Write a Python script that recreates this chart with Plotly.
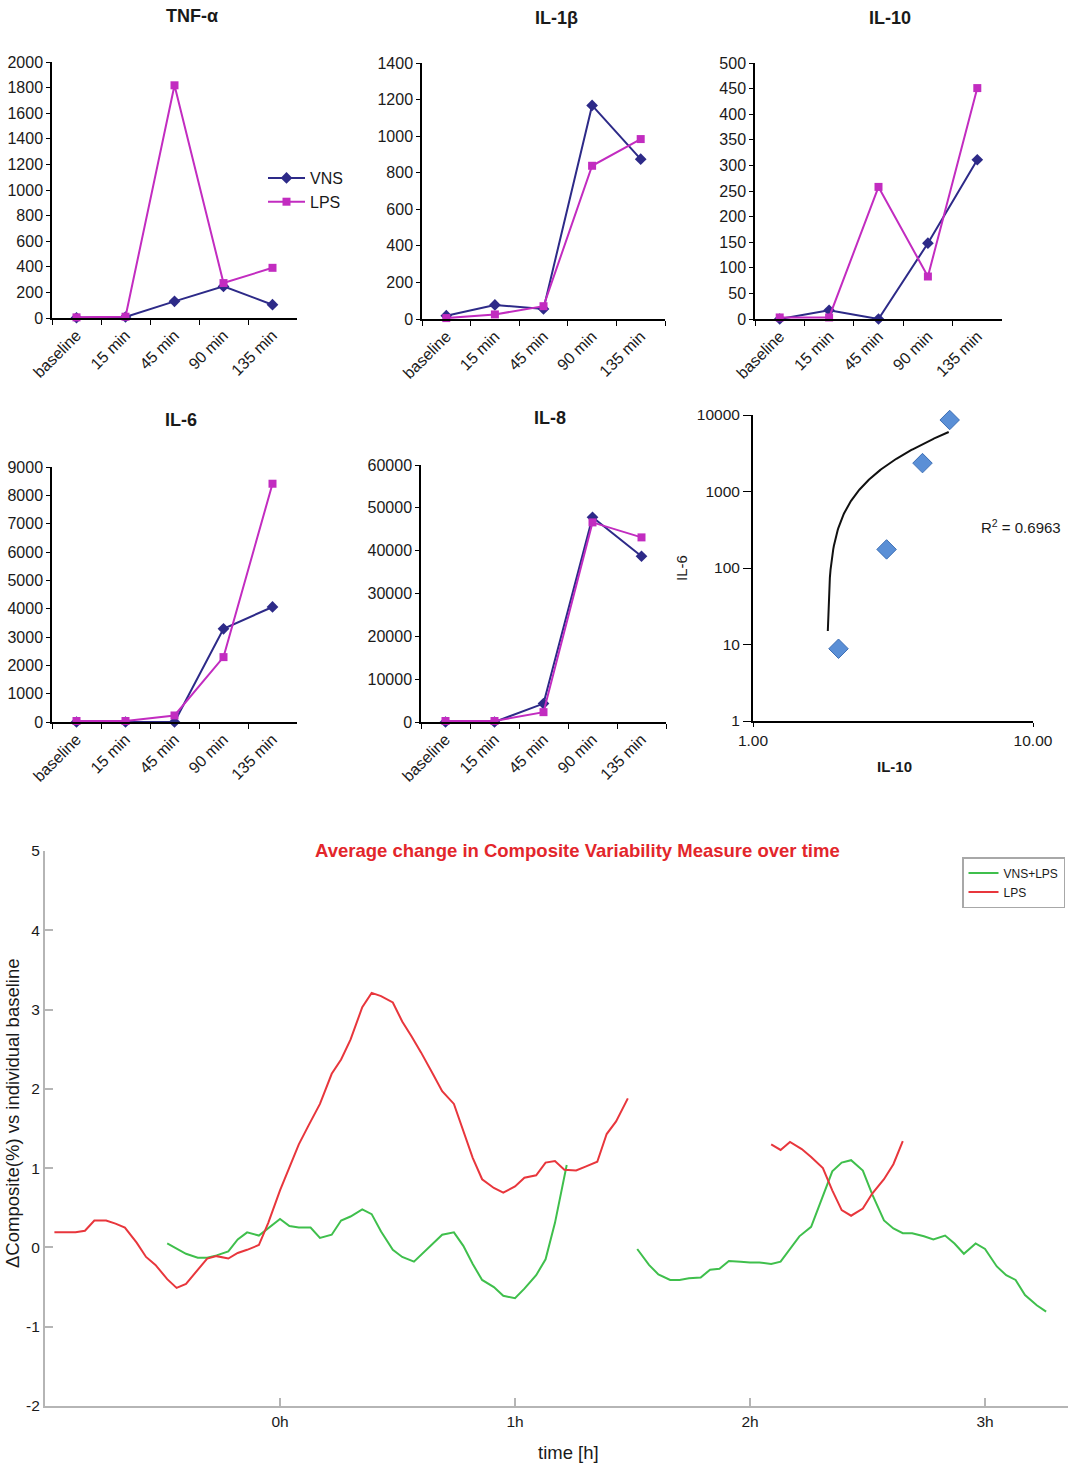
import numpy as np
import plotly.graph_objects as go

W, H = 1072, 1464

# ---------------- cytokine time courses ----------------
TIMEPOINTS = ["baseline", "15 min", "45 min", "90 min", "135 min"]

TNF_VNS = [2, 8, 130, 247, 104]
TNF_LPS = [5, 10, 1818, 273, 392]
IL1B_VNS = [18, 77, 55, 1168, 874]
IL1B_LPS = [5, 25, 70, 838, 984]
IL10_VNS = [0, 17, 0, 148, 311]
IL10_LPS = [3, 3, 258, 83, 451]
IL6_VNS = [0, 0, 0, 3290, 4060]
IL6_LPS = [35, 35, 230, 2290, 8410]
IL8_VNS = [0, 0, 4300, 47800, 38700]
IL8_LPS = [230, 230, 2300, 46600, 43100]

# ---------------- IL-10 vs IL-6 ----------------
SCATTER_IL10 = [2.02, 3.0, 4.03, 5.04]
SCATTER_IL6 = [8.8, 175, 2350, 8600]
TREND_SLOPE = 1900
TREND_INTERCEPT = -3500
TREND_X_RANGE = [1.85, 5.0]
R_SQUARED = 0.6963

# ---------------- composite variability (hours, % change) ----------------
LPS_T1 = [-0.96, -0.87, -0.83, -0.79, -0.74, -0.70, -0.66, -0.61, -0.57, -0.53,
          -0.48, -0.44, -0.40, -0.35, -0.31, -0.27, -0.22, -0.18, -0.14, -0.09,
          -0.05, 0.00, 0.04, 0.08, 0.12, 0.17, 0.22, 0.26, 0.30, 0.35,
          0.39, 0.43, 0.48, 0.52, 0.56, 0.60, 0.65, 0.69, 0.74, 0.78,
          0.82, 0.86, 0.91, 0.95, 1.00, 1.04, 1.09, 1.13, 1.17, 1.21,
          1.26, 1.30, 1.35, 1.39, 1.43, 1.48]
LPS_V1 = [0.19, 0.19, 0.21, 0.34, 0.34, 0.30, 0.25, 0.06, -0.12, -0.22,
          -0.40, -0.51, -0.46, -0.29, -0.14, -0.11, -0.14, -0.07, -0.03, 0.03,
          0.31, 0.72, 1.00, 1.30, 1.53, 1.81, 2.19, 2.37, 2.62, 3.03,
          3.21, 3.17, 3.09, 2.85, 2.66, 2.46, 2.19, 1.97, 1.81, 1.48,
          1.13, 0.86, 0.75, 0.69, 0.77, 0.88, 0.91, 1.07, 1.09, 0.98,
          0.97, 1.02, 1.08, 1.43, 1.59, 1.88]
LPS_T2 = [2.09, 2.13, 2.17, 2.22, 2.26, 2.31, 2.35, 2.39, 2.43, 2.48, 2.52, 2.57, 2.61, 2.65]
LPS_V2 = [1.30, 1.23, 1.33, 1.24, 1.14, 1.00, 0.72, 0.47, 0.40, 0.49, 0.68, 0.86, 1.05, 1.34]

VNS_T1 = [-0.48, -0.44, -0.40, -0.35, -0.31, -0.27, -0.22, -0.18, -0.14, -0.09,
          -0.05, 0.00, 0.04, 0.08, 0.13, 0.17, 0.22, 0.26, 0.30, 0.35,
          0.39, 0.43, 0.48, 0.52, 0.57, 0.61, 0.65, 0.69, 0.74, 0.78,
          0.82, 0.86, 0.91, 0.95, 1.00, 1.04, 1.09, 1.13, 1.17, 1.20, 1.22]
VNS_V1 = [0.05, -0.01, -0.08, -0.13, -0.13, -0.10, -0.05, 0.10, 0.19, 0.15,
          0.24, 0.36, 0.27, 0.25, 0.25, 0.12, 0.16, 0.34, 0.39, 0.48,
          0.42, 0.20, -0.03, -0.12, -0.18, -0.07, 0.05, 0.16, 0.19, 0.02,
          -0.21, -0.41, -0.50, -0.61, -0.64, -0.52, -0.35, -0.15, 0.31, 0.77, 1.04]
VNS_T2 = [1.52, 1.57, 1.61, 1.66, 1.70, 1.74, 1.79, 1.83, 1.87, 1.91,
          1.96, 2.00, 2.04, 2.09, 2.13, 2.17, 2.21, 2.26, 2.31, 2.35,
          2.39, 2.43, 2.48, 2.52, 2.57, 2.61, 2.65, 2.69, 2.74, 2.78,
          2.83, 2.87, 2.91, 2.96, 3.00, 3.05, 3.09, 3.13, 3.17, 3.22, 3.26]
VNS_V2 = [-0.02, -0.22, -0.34, -0.41, -0.41, -0.39, -0.38, -0.28, -0.27, -0.17,
          -0.18, -0.19, -0.19, -0.21, -0.18, -0.02, 0.14, 0.26, 0.64, 0.96,
          1.07, 1.10, 0.97, 0.67, 0.34, 0.24, 0.18, 0.18, 0.14, 0.10,
          0.15, 0.05, -0.08, 0.05, -0.02, -0.24, -0.35, -0.41, -0.60, -0.73, -0.81]

COMPOSITE_TICKS = [-2, -1, 0, 1, 2, 3, 4, 5]
HOUR_TICKS = [0, 1, 2, 3]

NAVY = "#2d2a88"
MAGENTA = "#c22cc0"
RED = "#e8363c"
GREEN = "#3fbf4c"
FONT = "Liberation Sans, Arial, Helvetica, sans-serif"


def xdom(p0, p1):
    return [p0 / W, p1 / W]


def ydom(top, bottom):
    return [1 - bottom / H, 1 - top / H]


def px(x):
    return x / W


def py(y):
    return 1 - y / H


def note(text, x, y, size=15, color="#1a1a1a", angle=0, anchor="center"):
    return dict(text=text, x=px(x), y=py(y), xref="paper", yref="paper",
                showarrow=False, xanchor=anchor, yanchor="middle",
                textangle=angle, font=dict(size=size, color=color))


fig = go.Figure()
layout = dict(
    width=W, height=H,
    margin=dict(l=0, r=0, t=0, b=0, pad=0, autoexpand=False),
    paper_bgcolor="white", plot_bgcolor="white",
    font=dict(family=FONT, color="#1a1a1a", size=16),
    showlegend=True,
)
annotations = []

panels = [
    ("TNF-α", TNF_VNS, TNF_LPS, 2000, 200, (52, 297, 62, 318), (192, 16)),
    ("IL-1β", IL1B_VNS, IL1B_LPS, 1400, 200, (422, 665, 63, 319), (556, 18)),
    ("IL-10", IL10_VNS, IL10_LPS, 500, 50, (755, 1002, 63, 319), (890, 18)),
    ("IL-6", IL6_VNS, IL6_LPS, 9000, 1000, (52, 297, 467, 722), (181, 420)),
    ("IL-8", IL8_VNS, IL8_LPS, 60000, 10000, (421, 666, 465, 722), (550, 418)),
]

for i, (title, vns, lps, ymax, step, box, tpos) in enumerate(panels, start=1):
    sfx = "" if i == 1 else str(i)
    x0, x1, y0, y1 = box
    fig.add_trace(go.Scatter(
        x=TIMEPOINTS, y=vns, name="VNS", mode="lines+markers",
        line=dict(color=NAVY, width=2),
        marker=dict(symbol="diamond", size=9, color=NAVY),
        xaxis="x" + sfx, yaxis="y" + sfx, cliponaxis=False,
        showlegend=(i == 1), legend="legend",
    ))
    fig.add_trace(go.Scatter(
        x=TIMEPOINTS, y=lps, name="LPS", mode="lines+markers",
        line=dict(color=MAGENTA, width=2),
        marker=dict(symbol="square", size=8, color=MAGENTA),
        xaxis="x" + sfx, yaxis="y" + sfx, cliponaxis=False,
        showlegend=(i == 1), legend="legend",
    ))
    layout["xaxis" + sfx] = dict(
        domain=xdom(x0, x1), anchor="y" + sfx, type="category",
        range=[-0.5, 4.5], tickson="boundaries", ticks="outside", ticklen=5,
        tickcolor="black", showline=True, linecolor="black", linewidth=1.5,
        tickangle=-45, tickfont=dict(size=16), showgrid=False, zeroline=False,
        fixedrange=True,
    )
    layout["yaxis" + sfx] = dict(
        domain=ydom(y0, y1), anchor="x" + sfx, range=[0, ymax], dtick=step,
        tickformat="d", ticks="outside", ticklen=4, tickcolor="black",
        showline=True, linecolor="black", linewidth=1.5,
        tickfont=dict(size=16), showgrid=False, zeroline=False,
        fixedrange=True,
    )
    annotations.append(note("<b>%s</b>" % title, tpos[0], tpos[1], size=18))

layout["legend"] = dict(
    x=px(263), y=py(161), xanchor="left", yanchor="top",
    bgcolor="rgba(0,0,0,0)", font=dict(size=16), itemwidth=37,
    tracegroupgap=0,
)

# ---------------- IL-10 vs IL-6 scatter with linear trend ----------------
trend_x = np.linspace(TREND_X_RANGE[0], TREND_X_RANGE[1], 300)
trend_y = TREND_SLOPE * trend_x + TREND_INTERCEPT
fig.add_trace(go.Scatter(
    x=trend_x, y=trend_y, mode="lines", line=dict(color="#111111", width=2),
    xaxis="x6", yaxis="y6", showlegend=False,
))
fig.add_trace(go.Scatter(
    x=SCATTER_IL10, y=SCATTER_IL6, mode="markers",
    marker=dict(symbol="diamond", size=15, color="#5a8fd6",
                line=dict(color="#3d6fb5", width=1)),
    xaxis="x6", yaxis="y6", showlegend=False, cliponaxis=False,
))
layout["xaxis6"] = dict(
    domain=xdom(753, 1033), anchor="y6", type="log", range=[0, 1],
    tickvals=[1, 10], ticktext=["1.00", "10.00"], ticks="outside", ticklen=4,
    tickcolor="black", showline=True, linecolor="black", linewidth=2,
    showgrid=False, zeroline=False, tickfont=dict(size=15.5), fixedrange=True,
)
layout["yaxis6"] = dict(
    domain=ydom(415, 721), anchor="x6", type="log", range=[0, 4],
    tickvals=[1, 10, 100, 1000, 10000],
    ticktext=["1", "10", "100", "1000", "10000"],
    ticks="outside", ticklen=8, tickcolor="black", showline=True,
    linecolor="black", linewidth=2, showgrid=False, zeroline=False,
    tickfont=dict(size=15.5), fixedrange=True,
)
annotations += [
    note("IL-6", 681, 568, angle=-90),
    note("<b>IL-10</b>", 894, 766),
    note("R<sup>2</sup> = %.4f" % R_SQUARED, 1063, 526, anchor="right"),
]

# ---------------- composite variability over time ----------------
fig.add_trace(go.Scatter(
    x=VNS_T1, y=VNS_V1, mode="lines", name="VNS+LPS",
    line=dict(color=GREEN, width=2), xaxis="x7", yaxis="y7",
    legend="legend2", legendgroup="vns",
))
fig.add_trace(go.Scatter(
    x=LPS_T1, y=LPS_V1, mode="lines", name="LPS",
    line=dict(color=RED, width=2), xaxis="x7", yaxis="y7",
    legend="legend2", legendgroup="lps",
))
fig.add_trace(go.Scatter(
    x=VNS_T2, y=VNS_V2, mode="lines", name="VNS+LPS",
    line=dict(color=GREEN, width=2), xaxis="x7", yaxis="y7",
    legend="legend2", legendgroup="vns", showlegend=False,
))
fig.add_trace(go.Scatter(
    x=LPS_T2, y=LPS_V2, mode="lines", name="LPS",
    line=dict(color=RED, width=2), xaxis="x7", yaxis="y7",
    legend="legend2", legendgroup="lps", showlegend=False,
))
layout["xaxis7"] = dict(
    domain=xdom(45, 1068), anchor="y7", range=[-1.0, 3.353],
    tickvals=HOUR_TICKS, ticktext=["%dh" % h for h in HOUR_TICKS],
    ticks="inside", ticklen=8, tickcolor="#b5b5b5", tickwidth=1.5,
    showline=True, linecolor="#b5b5b5", linewidth=2, showgrid=False,
    zeroline=False, tickfont=dict(size=15.5), fixedrange=True,
)
layout["yaxis7"] = dict(
    domain=ydom(851, 1406), anchor="x7", range=[-2, 5],
    tickvals=COMPOSITE_TICKS, ticktext=[str(v) for v in COMPOSITE_TICKS],
    ticks="inside", ticklen=8, tickcolor="#b5b5b5", tickwidth=1.5,
    showline=True, linecolor="#b5b5b5", linewidth=2, showgrid=False,
    zeroline=False, tickfont=dict(size=15.5), fixedrange=True,
)
layout["legend2"] = dict(
    x=px(962), y=py(857), xanchor="left", yanchor="top",
    bgcolor="white", bordercolor="#a8a8a8", borderwidth=1.5,
    font=dict(size=12), itemwidth=30, tracegroupgap=0,
)
annotations += [
    note("<b>Average change in Composite Variability Measure over time</b>",
         577, 851, size=18.5, color="#e3262b"),
    note("ΔComposite(%) vs individual baseline", 12, 1113, size=18.5, angle=-90),
    note("time [h]", 568, 1452, size=18.5),
]

layout["annotations"] = annotations
fig.update_layout(**layout)
fig.write_html("out.html")
